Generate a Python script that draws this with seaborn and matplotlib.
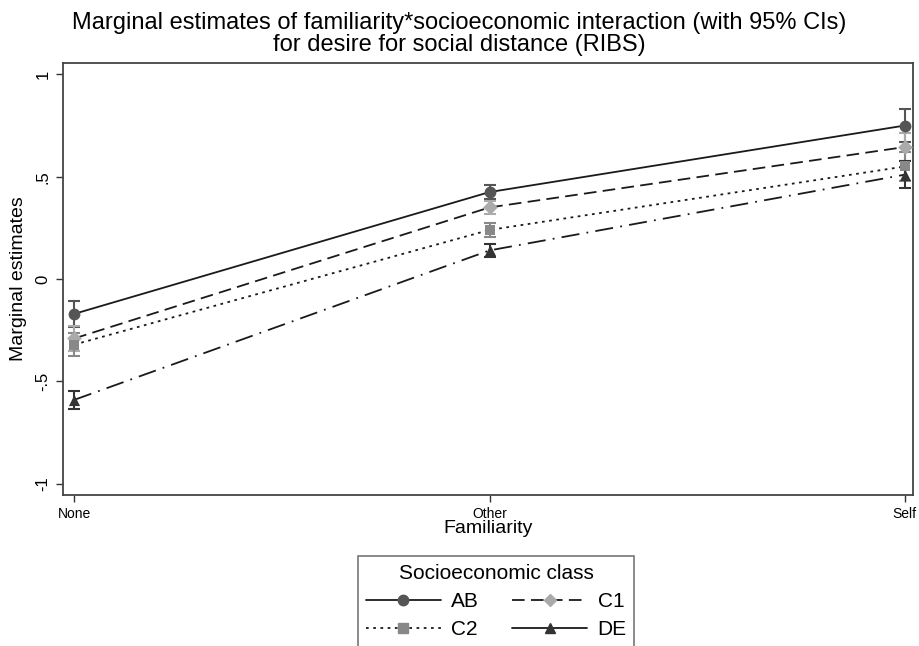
import numpy as np
import pandas as pd
import matplotlib
matplotlib.use("Agg")
import matplotlib.pyplot as plt
import seaborn as sns
from matplotlib.lines import Line2D

familiarity = ["None", "Other", "Self"]
classes = ["AB", "C1", "C2", "DE"]
est_ab = [-0.17, 0.425, 0.75]
est_c1 = [-0.29, 0.35, 0.645]
est_c2 = [-0.32, 0.24, 0.55]
est_de = [-0.59, 0.14, 0.51]
ci_ab = [0.065, 0.035, 0.08]
ci_c1 = [0.06, 0.03, 0.07]
ci_c2 = [0.055, 0.035, 0.07]
ci_de = [0.045, 0.03, 0.065]
y_ticks = [-1, -0.5, 0, 0.5, 1]
y_tick_labels = ["-1", "-.5", "0", ".5", "1"]

rows = []
for cls, est, ci in zip(classes, [est_ab, est_c1, est_c2, est_de], [ci_ab, ci_c1, ci_c2, ci_de]):
    for i, (f, e, c) in enumerate(zip(familiarity, est, ci)):
        rows.append({"cls": cls, "fam": f, "pos": i, "est": e, "ci": c})
df = pd.DataFrame(rows)

marker_colors = {"AB": "#555555", "C1": "#aaaaaa", "C2": "#888888", "DE": "#333333"}
markers = {"AB": "o", "C1": "D", "C2": "s", "DE": "^"}
msizes = {"AB": 8.5, "C1": 7.5, "C2": 7.5, "DE": 8}
dashes = {"AB": "", "C1": (7, 3.5), "C2": (1.5, 2.5), "DE": (10, 4, 1, 4)}

sns.set_style("white")
plt.rcParams['font.family'] = ['Arial', 'Liberation Sans', 'DejaVu Sans']
plt.rcParams['text.color'] = 'black'
plt.rcParams['axes.labelcolor'] = 'black'
plt.rcParams['xtick.color'] = 'black'
plt.rcParams['ytick.color'] = 'black'

fig = plt.figure(figsize=(9.19, 6.46), dpi=100)
ax = fig.add_axes([0.0686, 0.234, 0.925, 0.668])

# error bars first, under the lines
for cls in classes:
    sub = df[df["cls"] == cls]
    ax.errorbar(sub["pos"], sub["est"], yerr=sub["ci"], fmt="none",
                ecolor=marker_colors[cls], elinewidth=1.5, capsize=4, capthick=1.5, zorder=2)

sns.lineplot(data=df, x="pos", y="est", hue="cls", style="cls",
             palette={c: "#1a1a1a" for c in classes}, dashes=dashes,
             markers=False, linewidth=1.3, legend=False, ax=ax, zorder=3)

for cls in classes:
    sub = df[df["cls"] == cls]
    ax.scatter(sub["pos"], sub["est"], marker=markers[cls], s=msizes[cls] ** 2,
               color=marker_colors[cls], zorder=4, linewidths=0)

ax.set_xlim(-0.027, 2.02)
ax.set_ylim(-1.054, 1.054)
ax.set_xticks(range(len(familiarity)))
ax.set_xticklabels(familiarity, fontsize=10)
ax.set_yticks(y_ticks)
ax.set_yticklabels(y_tick_labels, rotation=90, va="center", fontsize=12)
ax.tick_params(axis="both", direction="out", length=5, width=1, color="#333333",
               left=True, bottom=True, pad=4)
ax.set_xlabel("Familiarity", fontsize=14, labelpad=-1)
ax.set_ylabel("Marginal estimates", fontsize=14, labelpad=6)
for s in ax.spines.values():
    s.set_color("#444444")
    s.set_linewidth(1.3)

fig.suptitle("Marginal estimates of familiarity*socioeconomic interaction (with 95% CIs)\n"
             "for desire for social distance (RIBS)", fontsize=17, y=0.982, linespacing=1.05)

# legend is filled column-wise, so order gives rows AB|C1 and C2|DE
legend_order = ["AB", "C2", "C1", "DE"]
handles = []
for cls in legend_order:
    ls = "-" if dashes[cls] == "" or cls == "DE" else (0, dashes[cls])
    handles.append(Line2D([0], [0], color="#1a1a1a", linestyle=ls, linewidth=1.3,
                          marker=markers[cls], markersize=msizes[cls] - 1,
                          markerfacecolor=marker_colors[cls], markeredgecolor=marker_colors[cls]))
leg = fig.legend(handles, legend_order, title="Socioeconomic class", ncol=2,
                 loc="upper center", bbox_to_anchor=(0.54, 0.155), fontsize=15, title_fontsize=15,
                 frameon=True, fancybox=False, edgecolor="#555555", handlelength=3.6,
                 columnspacing=1.6, handletextpad=0.5, borderpad=0.35, labelspacing=0.45)
leg.get_frame().set_linewidth(1.2)

fig.savefig("out.png", dpi=100, facecolor="white")
